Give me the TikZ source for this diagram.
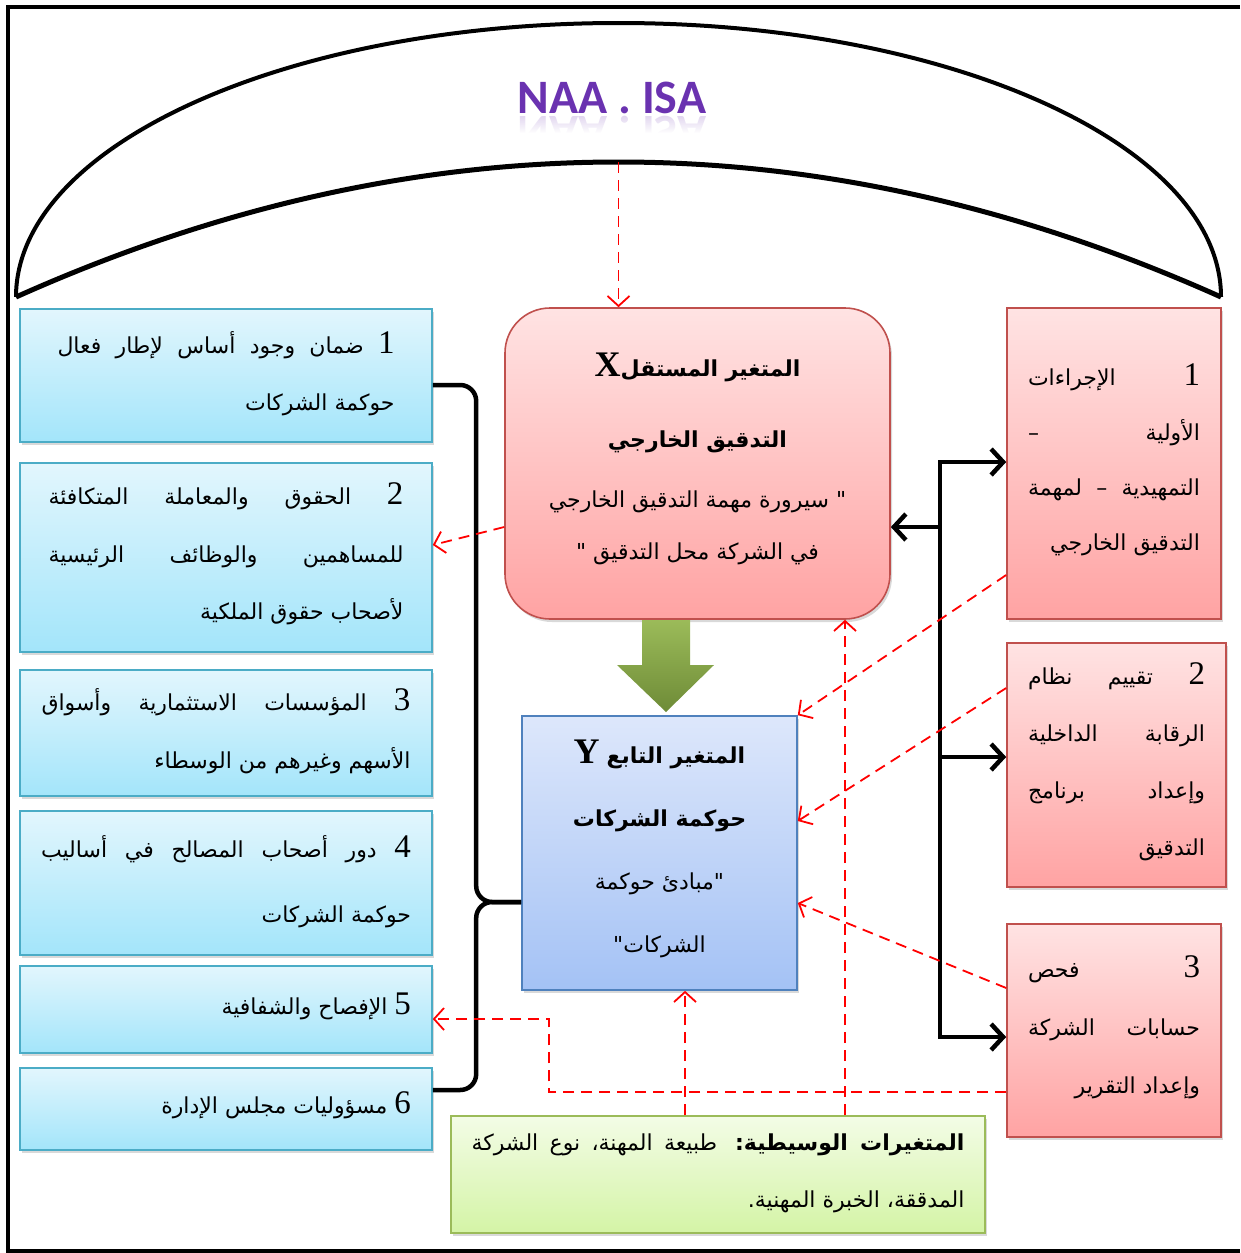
\documentclass[tikz,border=0pt]{standalone}
\usepackage{fontspec}
\usetikzlibrary{arrows.meta,shadows,fadings}
\TeXXeTstate=1
\newfontfamily\arabicfont[Script=Arabic]{DejaVu Sans}
\newfontfamily\seriffont{Liberation Serif}
\newfontfamily\titlefont{Carlito}

\definecolor{lTop}{HTML}{E2F6FD}
\definecolor{lBot}{HTML}{A3E5FA}
\definecolor{lEdge}{HTML}{4BACC6}
\definecolor{rTop}{HTML}{FFE3E3}
\definecolor{rBot}{HTML}{FFA3A3}
\definecolor{rEdge}{HTML}{C0504D}
\definecolor{bTop}{HTML}{DDE7FB}
\definecolor{bBot}{HTML}{A4C2F5}
\definecolor{bEdge}{HTML}{4F81BD}
\definecolor{gTop}{HTML}{F3FCE6}
\definecolor{gBot}{HTML}{D4F4A6}
\definecolor{gEdge}{HTML}{9BBB59}
\definecolor{arrTop}{HTML}{9BBB59}
\definecolor{arrBot}{HTML}{6E8B37}
\definecolor{titleCol}{HTML}{6A32B0}
\definecolor{dashRed}{HTML}{FF0000}

% one line of right-to-left text: justified, right-aligned or centred
\newcommand\strutA{\vrule height17pt depth8pt width0pt}
\newcommand\jl[1]{\hbox to\hsize{\strutA\beginR #1\endR}}
\newcommand\rl[1]{\hbox to\hsize{\strutA\hfill\beginR #1\endR}}
\newcommand\cl[1]{\hbox to\hsize{\strutA\hfill\beginR #1\endR\hfill}}
% a block of such lines: width, baseline distance, lines
\newcommand\txtblock[3]{\vbox{\hsize=#1pt\baselineskip=#2pt\lineskiplimit=-1000pt\lineskip=0pt #3}}
\newcommand\dg[1]{\smash{\seriffont\fontsize{33}{33}\selectfont #1}}
\newcommand\varXY[1]{\smash{\seriffont\bfseries\fontsize{36}{36}\selectfont #1}}

\tikzset{
  boxbase/.style={inner sep=0pt, font=\arabicfont\fontsize{22}{22}\selectfont,
    drop shadow={shadow xshift=2pt, shadow yshift=-3pt, opacity=0.3}},
  lbox/.style={boxbase, draw=lEdge, line width=1.6pt, top color=lTop, bottom color=lBot,
    minimum width=412pt},
  rbox/.style={boxbase, draw=rEdge, line width=1.6pt, top color=rTop, bottom color=rBot},
  bbox/.style={boxbase, draw=bEdge, line width=1.6pt, top color=bTop, bottom color=bBot},
  gbox/.style={boxbase, draw=gEdge, line width=1.6pt, top color=gTop, bottom color=gBot},
  dep/.style={draw=dashRed, line width=1.8pt, dash pattern=on 11pt off 7pt,
    -{Straight Barb[length=10pt,width=22pt]}},
  flow/.style={draw=black, line width=4.5pt, -{Straight Barb[length=12pt,width=26pt]}},
  bracket/.style={draw=black, line width=4.5pt, rounded corners=16pt},
  titletext/.style={font=\titlefont\bfseries\fontsize{48}{48}\selectfont, text=titleCol,
    anchor=base, inner sep=0pt},
}

\begin{document}
\begin{tikzpicture}[x=1pt, y=-1pt]
\useasboundingbox (0,0) rectangle (1240,1253);

% frame
\draw[line width=4pt] (1240,7) -- (8,7) -- (8,1251) -- (1240,1251);

% dome of the standards
\draw[line width=4pt] (16,297) arc[start angle=180, end angle=360, x radius=602.5, y radius=274];
\draw[line width=5pt] (16,297) .. controls (417.7,117) and (819.3,117) .. (1221,297);
\coordinate (apex) at (618.5,162);

\node[titletext] (title) at (612,113) {NAA . ISA};
\begin{scope}
  \clip (480,114) rectangle (750,132);
  \node[titletext, opacity=0.22, yscale=-1, transform shape] (titleMirror) at (612,116) {NAA . ISA};
\end{scope}
\fill[white, path fading=north] (480,114) rectangle (750,133);

% left column
\node[lbox, minimum height=133pt] (L1) at (226,375.5) {\txtblock{337}{57}{%
  \jl{\dg{1} ضمان وجود أساس لإطار فعال}%
  \rl{حوكمة الشركات}}};
\node[lbox, minimum height=189pt] (L2) at (226,557.5) {\txtblock{355}{57.5}{%
  \jl{\dg{2} الحقوق والمعاملة المتكافئة}%
  \jl{للمساهمين والوظائف الرئيسية}%
  \rl{لأصحاب حقوق الملكية}}};
\node[lbox, minimum height=126pt] (L3) at (226,733) {\txtblock{369}{58}{%
  \jl{\dg{3} المؤسسات الاستثمارية وأسواق}%
  \rl{الأسهم وغيرهم من الوسطاء}}};
\node[lbox, minimum height=144pt] (L4) at (226,883) {\txtblock{370}{65}{%
  \jl{\dg{4} دور أصحاب المصالح في أساليب}%
  \rl{حوكمة الشركات}}};
\node[lbox, minimum height=87pt] (L5) at (226,1009.5) {\txtblock{370}{57}{%
  \rl{\dg{5} الإفصاح والشفافية}}};
\node[lbox, minimum height=82pt] (L6) at (226,1109) {\txtblock{370}{57}{%
  \rl{\dg{6} مسؤوليات مجلس الإدارة}}};

% independent variable
\node[rbox, rounded corners=45pt, minimum width=385pt, minimum height=311pt] (X) at (697.5,463.5)
  {\txtblock{340}{52}{%
  \cl{\textbf{المتغير المستقل}\varXY{X}}\vskip19pt
  \cl{\textbf{التدقيق الخارجي}}\vskip8pt
  \cl{" سيرورة مهمة التدقيق الخارجي}%
  \cl{في الشركة محل التدقيق "}}};

% dependent variable
\node[bbox, minimum width=275pt, minimum height=274pt] (Y) at (659.5,853)
  {\txtblock{240}{63}{%
  \cl{\textbf{المتغير التابع} \varXY{Y}}%
  \cl{\textbf{حوكمة الشركات}}%
  \cl{"{}مبادئ حوكمة}%
  \cl{الشركات{}"}}};

% stages of the audit
\node[rbox, minimum width=214pt, minimum height=311pt] (R1) at (1114,463.5) {\txtblock{172}{55}{%
  \jl{\dg{1} الإجراءات}%
  \jl{الأولية –}%
  \jl{التمهيدية – لمهمة}%
  \rl{التدقيق الخارجي}}};
\node[rbox, minimum width=219pt, minimum height=244pt] (R2) at (1116.5,765) {\txtblock{177}{57}{%
  \jl{\dg{2} تقييم نظام}%
  \jl{الرقابة الداخلية}%
  \jl{وإعداد برنامج}%
  \rl{التدقيق}}};
\node[rbox, minimum width=214pt, minimum height=213pt] (R3) at (1114,1030.5) {\txtblock{172}{58}{%
  \jl{\dg{3} فحص}%
  \jl{حسابات الشركة}%
  \rl{وإعداد التقرير}}};

% moderating variables
\node[gbox, minimum width=534pt, minimum height=117pt] (G) at (718,1174.5) {\txtblock{493}{57}{%
  \jl{\textbf{المتغيرات الوسيطية{}:} طبيعة المهنة{}، نوع الشركة}%
  \rl{المدققة{}، الخبرة المهنية{}.}}};

% block arrow X -> Y
\shade[top color=arrTop, bottom color=arrBot]
  (642,620) -- (690,620) -- (690,665) -- (714,665) -- (666,712) -- (617,665) -- (642,665) -- cycle;

% bus on the right
\coordinate (busTop) at (940,462);
\coordinate (busBot) at (940,1037);
\coordinate (busX) at (940,527);
\coordinate (busR2) at (940,757);
\draw[flow] (busBot) -- (busTop) -- (busTop -| R1.west);
\draw[flow] (busTop) -- (busBot) -- (busBot -| R3.west);
\draw[flow] (busX) -- (busX -| X.east);
\draw[flow] (busR2) -- (busR2 -| R2.west);

% bracket on the left
\coordinate (bm) at ([yshift=-49pt]Y.west);
\coordinate (bc) at ([xshift=-45pt]bm);
\draw[bracket] ([yshift=-9.5pt]L1.east) -| (bc) -- (bm);
\draw[bracket] (bm) -- (bc) |- ([yshift=19pt]L6.east);

% dashed influences
\draw[dep] (apex) -- (apex |- X.north);
\draw[dep] ([yshift=-63.5pt]X.west) -- ([yshift=12.5pt]L2.east);
\draw[dep] ([yshift=-111.5pt]R1.west) -- (Y.north east);
\draw[dep] ([yshift=77pt]R2.west) -- ([yshift=32pt]Y.east);
\draw[dep] ([yshift=42.5pt]R3.west) -- ([yshift=-50pt]Y.east);
\coordinate (l5in) at ([yshift=-9.5pt]L5.east);
\coordinate (r3out) at ([yshift=-61.5pt]R3.west);
\draw[dep] (r3out) -| ([xshift=116pt]l5in) -- (l5in);
\coordinate (g1) at ([xshift=-33pt]G.north);
\coordinate (g2) at ([xshift=127pt]G.north);
\draw[dep] (g1) -- (g1 |- Y.south);
\draw[dep] (g2) -- (g2 |- X.south);
\end{tikzpicture}
\end{document}
